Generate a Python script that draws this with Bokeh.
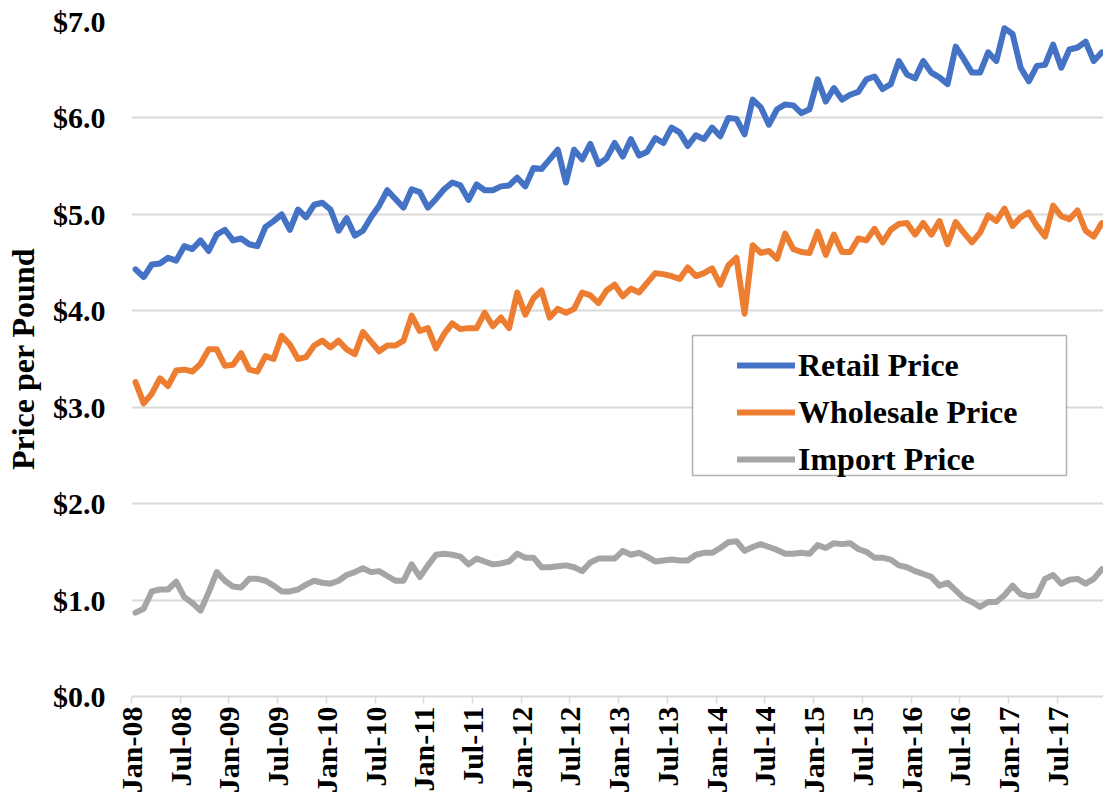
import math
from bokeh.plotting import figure
from bokeh.models import (ColumnDataSource, FixedTicker, NumeralTickFormatter, Legend,
                          LegendItem, BoxAnnotation, Range1d)
from bokeh.embed import file_html
from bokeh.resources import INLINE

# ---------------- data (monthly, Jan-08 .. Dec-17) ----------------
tick_labels = ["Jan-08", "Jul-08", "Jan-09", "Jul-09", "Jan-10", "Jul-10", "Jan-11",
               "Jul-11", "Jan-12", "Jul-12", "Jan-13", "Jul-13", "Jan-14", "Jul-14",
               "Jan-15", "Jul-15", "Jan-16", "Jul-16", "Jan-17", "Jul-17"]

retail = [4.43, 4.35, 4.48, 4.49, 4.55, 4.52, 4.67, 4.64, 4.73, 4.62,
          4.79, 4.84, 4.73, 4.75, 4.69, 4.67, 4.87, 4.93, 5.00, 4.84,
          5.05, 4.97, 5.10, 5.12, 5.05, 4.83, 4.96, 4.78, 4.83, 4.97,
          5.09, 5.25, 5.16, 5.07, 5.26, 5.23, 5.07, 5.16, 5.26, 5.33,
          5.30, 5.15, 5.31, 5.25, 5.25, 5.29, 5.30, 5.38, 5.29, 5.48,
          5.47, 5.57, 5.67, 5.33, 5.67, 5.57, 5.73, 5.52, 5.58, 5.74,
          5.60, 5.78, 5.61, 5.65, 5.79, 5.74, 5.90, 5.85, 5.71, 5.82,
          5.78, 5.90, 5.81, 6.00, 5.99, 5.83, 6.19, 6.11, 5.93, 6.09,
          6.14, 6.13, 6.05, 6.09, 6.40, 6.17, 6.31, 6.19, 6.24, 6.27,
          6.40, 6.43, 6.30, 6.35, 6.59, 6.45, 6.41, 6.59, 6.47, 6.42,
          6.35, 6.74, 6.61, 6.47, 6.47, 6.68, 6.59, 6.93, 6.87, 6.52,
          6.38, 6.54, 6.55, 6.76, 6.52, 6.71, 6.73, 6.79, 6.59, 6.68]

wholesale = [3.26, 3.04, 3.14, 3.30, 3.22, 3.38, 3.39, 3.37, 3.45, 3.60,
             3.60, 3.43, 3.44, 3.56, 3.39, 3.37, 3.53, 3.50, 3.74, 3.65,
             3.50, 3.52, 3.64, 3.69, 3.62, 3.69, 3.60, 3.55, 3.78, 3.68,
             3.58, 3.64, 3.64, 3.69, 3.95, 3.79, 3.82, 3.61, 3.76, 3.87,
             3.81, 3.82, 3.82, 3.98, 3.84, 3.93, 3.82, 4.19, 3.96, 4.13,
             4.21, 3.93, 4.02, 3.98, 4.02, 4.19, 4.16, 4.08, 4.21, 4.27,
             4.15, 4.23, 4.19, 4.29, 4.39, 4.38, 4.36, 4.33, 4.45, 4.36,
             4.39, 4.44, 4.27, 4.47, 4.55, 3.97, 4.68, 4.60, 4.62, 4.54,
             4.80, 4.64, 4.61, 4.60, 4.82, 4.58, 4.79, 4.61, 4.61, 4.75,
             4.73, 4.85, 4.71, 4.84, 4.90, 4.91, 4.79, 4.91, 4.79, 4.93,
             4.69, 4.92, 4.81, 4.71, 4.81, 4.99, 4.93, 5.06, 4.88, 4.97,
             5.02, 4.88, 4.77, 5.09, 4.98, 4.95, 5.04, 4.83, 4.77, 4.91]

import_price = [0.87, 0.91, 1.09, 1.11, 1.11, 1.19, 1.03, 0.97, 0.89, 1.08,
                1.29, 1.20, 1.14, 1.13, 1.22, 1.22, 1.20, 1.15, 1.09, 1.09,
                1.11, 1.16, 1.20, 1.18, 1.17, 1.20, 1.26, 1.29, 1.33, 1.29,
                1.30, 1.25, 1.20, 1.20, 1.37, 1.24, 1.36, 1.47, 1.48, 1.47,
                1.45, 1.37, 1.43, 1.40, 1.37, 1.38, 1.40, 1.48, 1.44, 1.44,
                1.34, 1.34, 1.35, 1.36, 1.34, 1.30, 1.39, 1.43, 1.43, 1.43,
                1.51, 1.47, 1.49, 1.45, 1.40, 1.41, 1.42, 1.41, 1.41, 1.47,
                1.49, 1.49, 1.54, 1.60, 1.61, 1.51, 1.55, 1.58, 1.55, 1.52,
                1.48, 1.48, 1.49, 1.48, 1.57, 1.54, 1.59, 1.58, 1.59, 1.53,
                1.50, 1.44, 1.44, 1.42, 1.36, 1.34, 1.30, 1.27, 1.24, 1.15,
                1.18, 1.10, 1.02, 0.98, 0.93, 0.98, 0.98, 1.05, 1.15, 1.06,
                1.04, 1.05, 1.22, 1.26, 1.17, 1.21, 1.22, 1.17, 1.22, 1.32]

series_names = ["Retail Price", "Wholesale Price", "Import Price"]
series_colors = ["#4472C4", "#ED7D31", "#A5A5A5"]

months = list(range(len(retail)))
source = ColumnDataSource(dict(month=months, retail=retail, wholesale=wholesale,
                               imp=import_price))

FONT = "Liberation Serif"

p = figure(width=1103, height=796, output_backend="svg", toolbar_location=None,
           x_range=Range1d(-0.5, 119.2), y_range=Range1d(0, 7),
           min_border_left=131, min_border_right=0, min_border_top=21,
           min_border_bottom=98)
p.outline_line_color = None
p.background_fill_color = "white"
p.border_fill_color = "white"

renderers = []
for col, color in zip(["retail", "wholesale", "imp"], series_colors):
    r = p.line("month", col, source=source, line_color=color, line_width=6,
               line_join="round", line_cap="round")
    renderers.append(r)

# grid
p.xgrid.grid_line_color = None
p.ygrid.grid_line_color = "#d9d9d9"
p.ygrid.grid_line_width = 2

# y axis
p.yaxis.ticker = FixedTicker(ticks=list(range(0, 8)))
p.yaxis.formatter = NumeralTickFormatter(format="$0.0")
p.yaxis.axis_line_color = None
p.yaxis.major_tick_line_color = None
p.yaxis.minor_tick_line_color = None
p.yaxis.major_tick_out = 0
p.yaxis.major_tick_in = 0
p.yaxis.major_label_standoff = 26
p.yaxis.major_label_text_font = FONT
p.yaxis.major_label_text_font_style = "bold"
p.yaxis.major_label_text_font_size = "30px"
p.yaxis.major_label_text_color = "black"
p.yaxis.axis_label = "Price per Pound"
p.yaxis.axis_label_text_font = FONT
p.yaxis.axis_label_text_font_style = "bold"
p.yaxis.axis_label_text_font_size = "32px"
p.yaxis.axis_label_text_color = "black"
p.yaxis.axis_label_standoff = 9

# x axis
tick_pos = [-0.5 + 6 * k for k in range(len(tick_labels))]
p.xaxis.ticker = FixedTicker(ticks=tick_pos)
p.xaxis.major_label_overrides = {t: lab for t, lab in zip(tick_pos, tick_labels)}
p.xaxis.major_label_orientation = math.pi / 2
p.xaxis.axis_line_color = "#d9d9d9"
p.xaxis.axis_line_width = 2
p.xaxis.major_tick_line_color = "#d9d9d9"
p.xaxis.major_tick_line_width = 1.5
p.xaxis.major_tick_in = 0
p.xaxis.major_tick_out = 7
p.xaxis.minor_tick_line_color = None
p.xaxis.major_label_standoff = 3
p.xaxis.major_label_text_font = FONT
p.xaxis.major_label_text_font_style = "bold"
p.xaxis.major_label_text_font_size = "30px"
p.xaxis.major_label_text_color = "black"

# legend frame
box = BoxAnnotation(left=561, right=935, bottom=221, top=361,
                    left_units="screen", right_units="screen",
                    top_units="screen", bottom_units="screen",
                    fill_color="white", fill_alpha=1.0,
                    line_color="black", line_width=1.5)
p.add_layout(box)

legend = Legend(items=[LegendItem(label=n, renderers=[r]) for n, r in zip(series_names, renderers)],
                location=(606, 217), margin=0, padding=5, spacing=7,
                glyph_width=58, glyph_height=40, label_height=40, label_standoff=3,
                label_text_font=FONT, label_text_font_style="bold",
                label_text_font_size="32px", label_text_color="black",
                border_line_color=None, background_fill_alpha=0)
p.add_layout(legend, "center")

open("out.html", "w").write(file_html(p, INLINE))
